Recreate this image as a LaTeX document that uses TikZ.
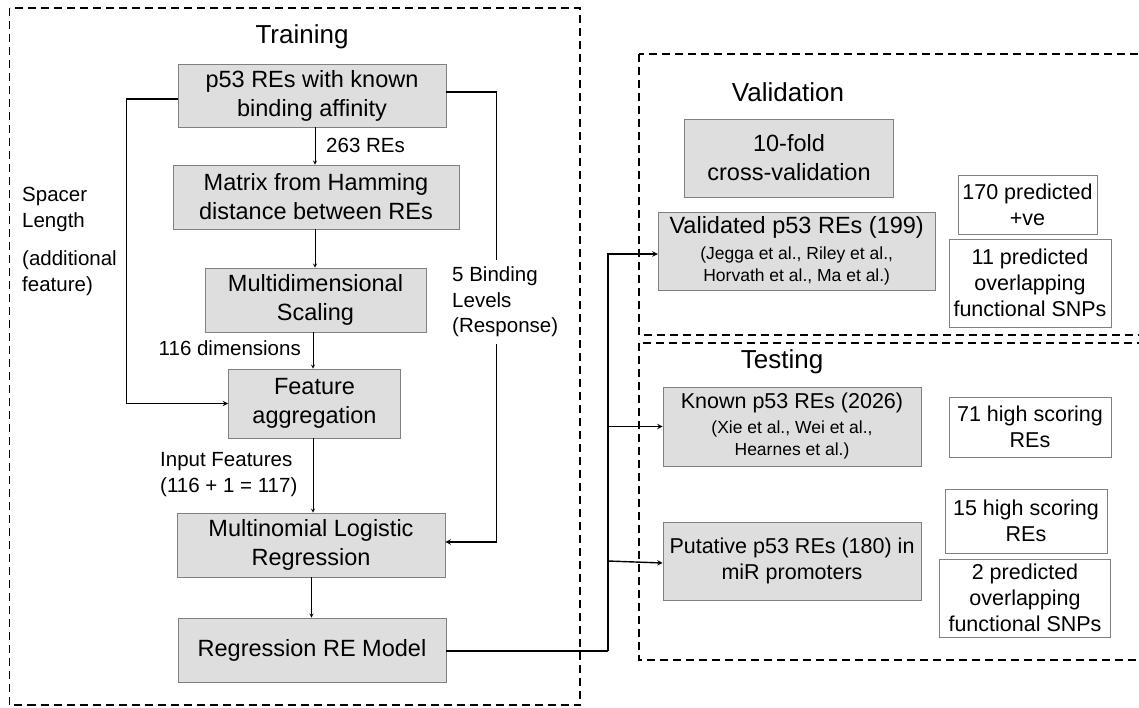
\documentclass[tikz,border=0pt]{standalone}
\usepackage{fontspec}
\setmainfont{Liberation Sans}
\usetikzlibrary{arrows}

\newcommand{\boxtxt}{\fontsize{23.5}{29}\selectfont}
\newcommand{\testtxt}{\fontsize{21.5}{26}\selectfont}
\newcommand{\citetxt}{\fontsize{17.5}{22.5}\selectfont}
\newcommand{\lbltxt}{\fontsize{20.5}{25.5}\selectfont}

\tikzset{
  greybox/.style={draw=black!50, fill=black!13, line width=0.8pt, inner sep=0pt, align=center},
  whitebox/.style={draw=black!50, fill=white, line width=0.8pt, inner sep=0pt, align=center},
  lbl/.style={inner sep=0pt, align=left, font=\lbltxt},
  heading/.style={inner sep=0pt, font=\fontsize{26}{30}\selectfont},
  region/.style={dash pattern=on 8pt off 5pt, line width=1.2pt},
  arr/.style={-stealth, line width=0.8pt},
  link/.style={line width=1.4pt}
}

\begin{document}
\begin{tikzpicture}[x=1pt,y=-1pt]
\useasboundingbox (0,0) rectangle (1139,707);
\clip (0,0) rectangle (1139,707);

% dashed regions
\draw[region] (9.5,8) rectangle (580,705);
\draw[region] (639,54) rectangle (1160,335);
\draw[region] (639,343) rectangle (1160,660);

\node[heading] (traintitle) at (302,37) {Training};
\node[heading] (validtitle) at (788,92) {Validation};
\node[heading] (testtitle) at (782,362) {Testing};

% training chain
\node[greybox, font=\boxtxt, minimum width=268pt, minimum height=63pt] (affinity) at (312,95.5) {p53 REs with known\\binding affinity};
\node[greybox, font=\boxtxt, minimum width=286pt, minimum height=64pt] (hamming) at (316,197) {Matrix from Hamming\\distance between REs};
\node[greybox, font=\boxtxt, minimum width=221pt, minimum height=64pt] (mds) at (315.5,300) {Multidimensional\\Scaling};
\node[greybox, font=\boxtxt, minimum width=172pt, minimum height=69pt] (aggr) at (314.5,403.5) {Feature\\aggregation};
\node[greybox, font=\boxtxt, minimum width=268pt, minimum height=64pt] (mlr) at (311,545) {Multinomial Logistic\\Regression};
\node[greybox, font=\boxtxt, minimum width=268pt, minimum height=64pt] (model) at (312,650) {Regression RE Model};

\draw[arr] (affinity.south -| 315,0) -- (hamming.north -| 315,0);
\draw[arr] (hamming.south -| 315,0) -- (mds.north -| 315,0);
\draw[arr] (mds.south -| 313,0) -- (aggr.north -| 313,0);
\draw[arr] (aggr.south -| 313,0) -- (mlr.north -| 313,0);
\draw[arr] (mlr.south -| 311.5,0) -- (model.north -| 311.5,0);

\node[lbl, anchor=west] (nres) at (326,145) {263 REs};
\node[lbl, anchor=east] (ndim) at (301,348) {116 dimensions};
\node[lbl, anchor=west] (infeat) at (160,474.5) {Input Features\\(116 + 1 = 117)};

% spacer length and response feeds
\draw[arr, link] ([yshift=-3.5pt]affinity.west) -- ++(-51,0) |- (aggr.west);
\node[lbl, anchor=west] (spacer) at (22,209.5) {Spacer\\Length};
\node[lbl, anchor=west] (addfeat) at (22,273) {(additional\\feature)};

\draw[arr, link] ([yshift=3.5pt]affinity.east) -- ++(50,0) |- ([yshift=3pt]mlr.east);
\node[lbl, anchor=west, fill=white, inner ysep=7pt] (resp) at (452,302) {5 Binding\\Levels\\(Response)};

% validation
\node[greybox, font=\boxtxt, minimum width=209pt, minimum height=78pt] (cv) at (789,158) {10-fold\\cross-validation};
\node[greybox, font=\citetxt, minimum width=277pt, minimum height=78pt] (valid) at (796.7,251) {{\boxtxt Validated p53 REs (199)}\\[3pt](Jegga et al., Riley et al.,\\Horvath et al., Ma et al.)};
\node[whitebox, font=\testtxt, minimum width=139pt, minimum height=59pt] (pos) at (1027.5,204.5) {170 predicted\\+ve};
\node[whitebox, font=\testtxt, minimum width=162pt, minimum height=88pt] (snpa) at (1030,283) {11 predicted\\overlapping\\functional SNPs};

% testing
\node[greybox, font=\citetxt, minimum width=258pt, minimum height=79pt] (known) at (792,426.5) {{\testtxt Known p53 REs (2026)}\\[2pt](Xie et al., Wei et al.,\\Hearnes et al.)};
\node[greybox, font=\testtxt, minimum width=258pt, minimum height=78pt] (putative) at (792,561) {Putative p53 REs (180) in\\miR promoters};
\node[whitebox, font=\testtxt, minimum width=162pt, minimum height=60pt] (higha) at (1030,427) {71 high scoring\\REs};
\node[whitebox, font=\testtxt, minimum width=162pt, minimum height=64pt] (highb) at (1026,521) {15 high scoring\\REs};
\node[whitebox, font=\testtxt, minimum width=171pt, minimum height=78pt] (snpb) at (1025,598) {2 predicted\\overlapping\\functional SNPs};

% model output to validation and testing
\coordinate (trunk) at (608,651);
\draw[link] (model.east |- trunk) -- (trunk);
\draw[arr, link] (trunk) |- ([yshift=-3pt]valid.west);
\draw[arr, link] (trunk |- known.west) -- (known.west);
\draw[arr, link] (trunk |- putative.west) -- ([yshift=-2pt]putative.west);
\end{tikzpicture}
\end{document}
